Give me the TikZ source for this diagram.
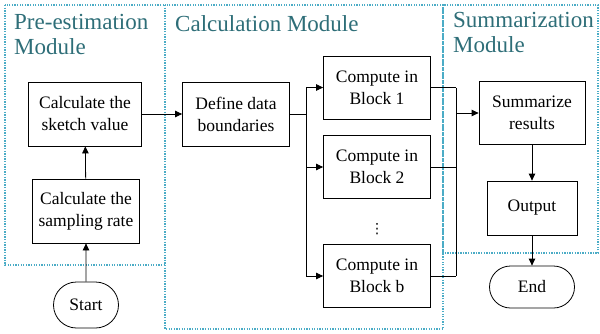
\documentclass[tikz,border=0pt]{standalone}
\usepackage{fontspec}
\setmainfont{Liberation Serif}
\newfontfamily\symfont{DejaVu Sans}
\usepackage{xcolor}
\usetikzlibrary{positioning,arrows.meta,shapes.misc}
\definecolor{modframe}{RGB}{75,172,198}
\definecolor{modtitle}{RGB}{46,110,120}
\tikzset{
proc/.style={
draw,
line width=0.8pt,
minimum width=107pt,
minimum height=63pt,
inner sep=2pt,
align=center,
font=\fontsize{17.5}{22}\selectfont
},
term/.style={
draw,
rounded rectangle,
line width=0.8pt,
inner sep=2pt,
font=\fontsize{17.5}{22}\selectfont
},
module/.style={
draw=modframe,
dash pattern=on 1.3pt off 1.3pt,
line width=1.3pt
},
modlabel/.style={
anchor=north west,
inner sep=0pt,
align=left,
text=modtitle,
font=\fontsize{23}{25}\selectfont
},
arrow/.style={
-{Triangle[length=7pt,width=6.5pt]},
line width=0.8pt
}
}

\begin{document}
\begin{tikzpicture}[x=1pt,y=-1pt]
\useasboundingbox (0,0) rectangle (600,333);

% module frames
\draw[module] (5,5) rectangle (165,265);
\draw[module] (165,5) rectangle (443,329);
\draw[module] (443,5) rectangle (598,253);
\node[modlabel] (pretitle) at (14,14) {Pre-estimation\\Module};
\node[modlabel] (calctitle) at (175,15) {Calculation Module};
\node[modlabel] (sumtitle) at (453,12) {Summarization\\Module};

% pre-estimation
\node[proc,minimum width=113pt,minimum height=64pt] (sketch) at (85,114) {Calculate the\\sketch value};
\node[proc,minimum height=64pt] (rate) at (86,211) {Calculate the\\sampling rate};
\node[term,minimum width=69pt,minimum height=46pt] (start) at (86,305) {Start};

% calculation
\node[proc,minimum height=64pt] (define) at (236,114) {Define data\\boundaries};
\node[proc] (blk1) at (377,87.5) {Compute in\\Block 1};
\node[proc] (blk2) at (377,167) {Compute in\\Block 2};
\node[font=\symfont\fontsize{14}{14}\selectfont] (dots) at (377,229) {⋮};
\node[proc] (blkb) at (377,276) {Compute in\\Block b};

% summarization
\node[proc,minimum width=106pt] (summ) at (532,113) {Summarize\\results};
\node[proc,minimum width=90pt,minimum height=54pt] (out) at (532,208) {Output};
\node[term,minimum width=89pt,minimum height=42pt] (end) at (532,287) {End};

\coordinate (fork) at (306,0);
\coordinate (join) at (456,0);

\draw[arrow] (start) -- (rate);
\draw[arrow] (rate) -- (sketch);
\draw[arrow] (sketch) -- (define);
\foreach \b in {blk1,blk2,blkb}
\draw[arrow] (define.east) -- (fork |- define.east) |- (\b.west);
\foreach \b in {blk1,blk2,blkb}
\draw[line width=0.8pt] (\b.east) -- (join |- \b.east);
\draw[line width=0.8pt] (join |- blk1.east) -- (join |- blkb.east);
\draw[arrow] (join |- summ.west) -- (summ.west);
\draw[arrow] (summ) -- (out);
\draw[arrow] (out) -- (end);

\end{tikzpicture}
\end{document}
